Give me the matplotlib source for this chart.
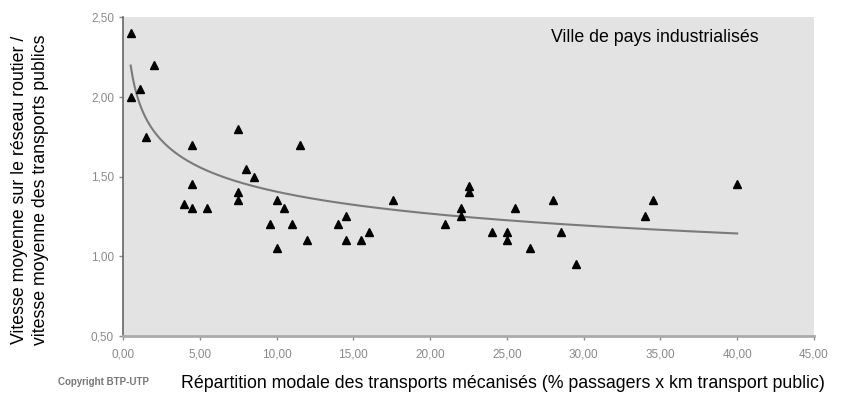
import numpy as np
import matplotlib
matplotlib.use("Agg")
import matplotlib.pyplot as plt
from matplotlib.ticker import FuncFormatter

plt.rcParams['font.family'] = ['Liberation Sans', 'DejaVu Sans']

# part modale TC (%) et rapport des vitesses
part_tc = [0.5, 0.5, 1.1, 2.0, 1.5, 4.5, 4.0, 4.5, 4.5, 5.5,
           7.5, 7.5, 7.5, 8.0, 8.5, 9.6, 10.0, 10.0, 10.5, 11.0,
           11.5, 12.0, 14.0, 14.5, 14.5, 15.5, 16.0, 17.6, 21.0, 22.0,
           22.0, 22.5, 22.5, 24.0, 25.0, 25.0, 25.5, 26.5, 28.0, 28.5,
           29.5, 34.0, 34.5, 40.0]
ratio = [2.40, 2.00, 2.05, 2.20, 1.75, 1.70, 1.33, 1.45, 1.30, 1.30,
         1.80, 1.40, 1.35, 1.55, 1.50, 1.20, 1.35, 1.05, 1.30, 1.20,
         1.70, 1.10, 1.20, 1.25, 1.10, 1.10, 1.15, 1.35, 1.20, 1.30,
         1.25, 1.44, 1.40, 1.15, 1.15, 1.10, 1.30, 1.05, 1.35, 1.15,
         0.95, 1.25, 1.35, 1.45]

# courbe de tendance (puissance) y = a * x^b
trend_a = 1.98
trend_b = -0.149
trend_x = [0.5, 40.0]

fig = plt.figure(figsize=(8.45, 3.97), dpi=100)
ax = fig.add_axes([123/845, 61/397, 691/845, 319/397])
ax.set_facecolor('#e3e3e3')

xs = np.linspace(trend_x[0], trend_x[1], 300)
ax.plot(xs, trend_a * xs**trend_b, color='#7a7a7a', lw=1.5, zorder=2)
ax.plot(part_tc, ratio, linestyle='none', marker='^', ms=6, color='black', zorder=3)

ax.set_xlim(0, 45)
ax.set_ylim(0.5, 2.5)
ax.set_xticks(np.arange(0, 46, 5))
ax.set_yticks([0.5, 1.0, 1.5, 2.0, 2.5])
fmt = FuncFormatter(lambda v, p: ('%.2f' % v).replace('.', ','))
ax.xaxis.set_major_formatter(fmt)
ax.yaxis.set_major_formatter(fmt)
ax.tick_params(labelsize=8.5, colors='#8a8a8a', length=3, width=1)
ax.tick_params(axis='x', pad=6)

for s in ['top', 'right']:
    ax.spines[s].set_visible(False)
ax.spines['left'].set_color('#666666')
ax.spines['left'].set_linewidth(1.2)
ax.spines['bottom'].set_color('#aaaaaa')
ax.spines['bottom'].set_linewidth(2)

ax.text(0.77, 0.937, 'Ville de pays industrialisés', transform=ax.transAxes,
        ha='center', va='center', fontsize=12.8)

fig.text(30/845, 1 - 190/397,
         'Vitesse moyenne sur le réseau routier /\nvitesse moyenne des transports publics',
         rotation=90, ha='center', va='center', fontsize=12.8, linespacing=1.25)
fig.text(503/845, 1 - 383/397,
         'Répartition modale des transports mécanisés (% passagers x km transport public)',
         ha='center', va='center', fontsize=12.8)
fig.text(104/845, 1 - 382/397, 'Copyright BTP-UTP', ha='center', va='center',
         fontsize=7, fontweight='bold', color='#777777')

fig.savefig('out.png', dpi=100)
